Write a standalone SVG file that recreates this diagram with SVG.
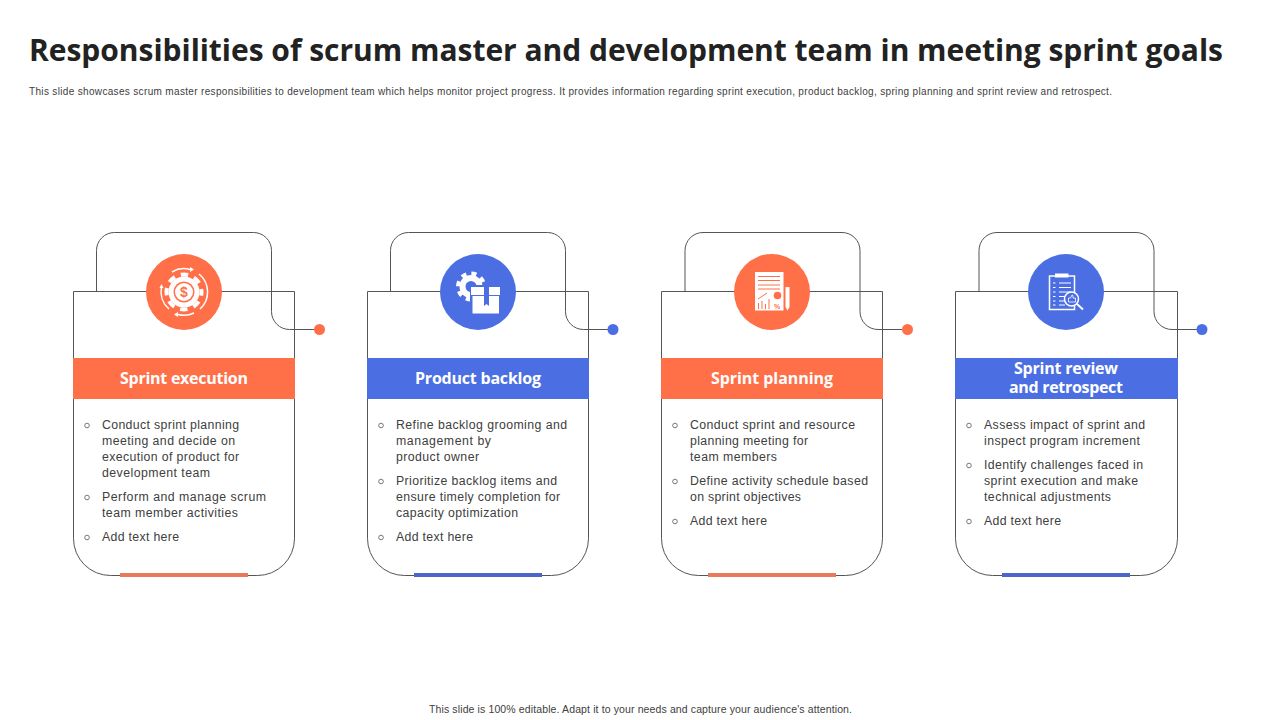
<svg xmlns="http://www.w3.org/2000/svg" width="1280" height="720" viewBox="0 0 1280 720">
<style>
.title{font:700 30px "Open Sans","Noto Sans",sans-serif;fill:#222}
.sub{font:10px "Liberation Sans",Arial,sans-serif;fill:#404040}
.foot{font:10.5px "Liberation Sans",Arial,sans-serif;fill:#404040}
.b{font:12.300px "Liberation Sans",Arial,sans-serif;fill:#404040}
.h{font:700 16px "Open Sans","Noto Sans",sans-serif;fill:#fff;text-anchor:middle}
.frame{fill:none;stroke:#555;stroke-width:1}
.conn{fill:none;stroke:#555;stroke-width:1}
.dot{fill:none;stroke:#555;stroke-width:.8}
.o{fill:#FF7049}.bl{fill:#4B6FE3}
.wl{fill:none;stroke:#fff;stroke-width:1.5}
.wt{fill:#fff}
.icon-t{font:700 8px "Liberation Sans",Arial,sans-serif;text-anchor:middle}
</style>
<defs>
<path id="frame" class="frame" d="M0 0H221V247A37 37 0 0 1 184 284H37A37 37 0 0 1 0 247Z"/>
<path id="frame-wide" class="frame" d="M0 0H222V247A37 37 0 0 1 185 284H37A37 37 0 0 1 0 247Z"/>
<path id="loop" class="conn" d="M0 59V18A18 18 0 0 1 18 0H157A18 18 0 0 1 175 18V79A18 18 0 0 0 193 97H222"/>
</defs>
<text class="title" x="29" y="60.500" textLength="1194">Responsibilities of scrum master and development team in meeting sprint goals</text>
<text class="sub" x="29" y="94.500" textLength="1083">This slide showcases scrum master responsibilities to development team which helps monitor project progress. It provides information regarding sprint execution, product backlog, spring planning and sprint review and retrospect.</text>
<g id="connectors">
<use href="#loop" x="96.500" y="232.500"/><circle class="o" cx="319.500" cy="329.500" r="5.500"/>
<use href="#loop" x="390.500" y="232.500"/><circle class="bl" cx="613" cy="329.500" r="5.500"/>
<use href="#loop" x="685" y="232.500"/><circle class="o" cx="907.500" cy="329.500" r="5.500"/>
<use href="#loop" x="979" y="232.500"/><circle class="bl" cx="1202" cy="329.500" r="5.500"/>
</g>
<g id="node-sprint-execution">
<use href="#frame" x="73.500" y="291.500"/>
<rect class="o" x="73" y="358" width="222" height="41"/>
<rect x="120" y="573" width="128" height="4" fill="#E8795B"/>
<circle class="o" cx="184" cy="292" r="38"/>
<circle cx="184" cy="292" r="15.500" fill="#fff"/>
<circle cx="184" cy="292" r="17.500" fill="none" stroke="#fff" stroke-width="4" stroke-dasharray="7.500 6.240" stroke-dashoffset="3.750"/>
<circle cx="184" cy="292" r="10.500" class="o"/>
<circle cx="184" cy="292" r="9" fill="#fff"/>
<text x="184" y="297" class="icon-t" style="font-size:14px" fill="#FF7049">$</text>
<path class="wl" d="M172 272A23 23 0 0 1 190 269.500M199 274A23 23 0 0 1 200 309M194 313A23 23 0 0 1 178 314.500M169 309A23 23 0 0 1 161.500 287"/>
<path class="wt" d="M190 267l4 2.500-4 2.500zM178 312l-4 2.500 4 2.500zM159.500 288l2-4 2 4z"/>
<text class="h" x="184" y="384" textLength="128">Sprint execution</text>
<circle class="dot" cx="87" cy="425.500" r="2.300"/>
<text class="b" x="102" y="428.500" textLength="137">Conduct sprint planning</text>
<text class="b" x="102" y="444.500" textLength="133">meeting and decide on</text>
<text class="b" x="102" y="460.500" textLength="137">execution of product for</text>
<text class="b" x="102" y="476.500" textLength="108">development  team</text>
<circle class="dot" cx="87" cy="497.500" r="2.300"/>
<text class="b" x="102" y="500.500" textLength="164">Perform and manage scrum</text>
<text class="b" x="102" y="516.500" textLength="136">team member activities</text>
<circle class="dot" cx="87" cy="537.500" r="2.300"/>
<text class="b" x="102" y="540.500" textLength="77">Add text here</text>
</g>
<g id="node-product-backlog">
<use href="#frame" x="367.500" y="291.500"/>
<rect class="bl" x="367" y="358" width="222" height="41"/>
<rect x="414" y="573" width="128" height="4" fill="#4A66C8"/>
<circle class="bl" cx="478" cy="292" r="38"/>
<circle cx="471" cy="286.500" r="8.500" fill="none" stroke="#fff" stroke-width="6"/>
<circle cx="471" cy="286.500" r="13" fill="none" stroke="#fff" stroke-width="4" stroke-dasharray="5.100 5.110"/>
<rect x="470" y="285" width="32" height="30" class="bl"/>
<rect x="471" y="287" width="29" height="8" fill="#fff"/>
<rect x="472.500" y="296" width="26.500" height="17.500" fill="#fff"/>
<path class="bl" d="M484 287h5v19l-2.500-2-2.500 2z"/>
<text class="h" x="478" y="384" textLength="126">Product backlog</text>
<circle class="dot" cx="381" cy="425.500" r="2.300"/>
<text class="b" x="396" y="428.500" textLength="171">Refine backlog grooming and</text>
<text class="b" x="396" y="444.500" textLength="95">management by</text>
<text class="b" x="396" y="460.500" textLength="83">product owner</text>
<circle class="dot" cx="381" cy="481.500" r="2.300"/>
<text class="b" x="396" y="484.500" textLength="161">Prioritize backlog items and</text>
<text class="b" x="396" y="500.500" textLength="164">ensure timely completion for</text>
<text class="b" x="396" y="516.500" textLength="122">capacity optimization</text>
<circle class="dot" cx="381" cy="537.500" r="2.300"/>
<text class="b" x="396" y="540.500" textLength="77">Add text here</text>
</g>
<g id="node-sprint-planning">
<use href="#frame" x="661.500" y="291.500"/>
<rect class="o" x="661" y="358" width="222" height="41"/>
<rect x="708" y="573" width="128" height="4" fill="#E8795B"/>
<circle class="o" cx="772" cy="292" r="38"/>
<rect x="755" y="272" width="28.500" height="38.500" fill="#fff"/>
<path d="M758 276.500h22M758 280.500h22M758 285h22M758 289h22" stroke="#FF7049" stroke-width="1.200" fill="none"/>
<circle cx="777.500" cy="295.500" r="3.800" class="o"/>
<path d="M758.500 309v-6M762 309v-8M765.500 309v-5M769 309v-10M758 299l9-6" stroke="#FF7049" stroke-width="1" fill="none"/>
<text x="777" y="309" class="icon-t" style="font-size:7px" fill="#FF7049">%</text>
<path class="wt" d="M785.500 287h4v20l-2 3.500-2-3.500z"/>
<text class="h" x="772" y="384" textLength="122">Sprint planning</text>
<circle class="dot" cx="675" cy="425.500" r="2.300"/>
<text class="b" x="690" y="428.500" textLength="165">Conduct sprint and resource</text>
<text class="b" x="690" y="444.500" textLength="118">planning meeting for</text>
<text class="b" x="690" y="460.500" textLength="87">team members</text>
<circle class="dot" cx="675" cy="481.500" r="2.300"/>
<text class="b" x="690" y="484.500" textLength="178">Define activity schedule based</text>
<text class="b" x="690" y="500.500" textLength="111">on sprint objectives</text>
<circle class="dot" cx="675" cy="521.500" r="2.300"/>
<text class="b" x="690" y="524.500" textLength="77">Add text here</text>
</g>
<g id="node-sprint-review">
<use href="#frame-wide" x="955.500" y="291.500"/>
<rect class="bl" x="955" y="358" width="223" height="41"/>
<rect x="1002" y="573" width="128" height="4" fill="#4A66C8"/>
<circle class="bl" cx="1066" cy="292" r="38"/>
<rect x="1049.500" y="276" width="25" height="33.500" fill="none" stroke="#fff" stroke-width="1.500"/>
<rect x="1055" y="273.500" width="13.500" height="4" fill="#fff"/>
<path d="M1059 283h12M1059 287.500h12M1059 292h12M1059 296.500h8M1059 301h6M1059 305h6" stroke="#fff" stroke-width="1" fill="none"/>
<path d="M1053 283h2.500M1053 287.500h2.500M1053 292h2.500M1053 296.500h2.500M1053 301h2.500M1053 305h2.500" stroke="#fff" stroke-width="1" fill="none"/>
<circle cx="1071.500" cy="299" r="7" fill="#4B6FE3" stroke="#fff" stroke-width="1.500"/>
<path d="M1068.500 302v-4h2l1.500-3 1 .5v2.500h2.500v4z" fill="none" stroke="#fff" stroke-width=".8"/>
<path d="M1077 304l6 5.500" stroke="#fff" stroke-width="2" fill="none"/>
<text class="h" x="1066" y="374" textLength="104">Sprint review</text>
<text class="h" x="1066" y="393" textLength="114">and retrospect</text>
<circle class="dot" cx="969" cy="425.500" r="2.300"/>
<text class="b" x="984" y="428.500" textLength="161">Assess impact of sprint and</text>
<text class="b" x="984" y="444.500" textLength="156">inspect program increment</text>
<circle class="dot" cx="969" cy="465.500" r="2.300"/>
<text class="b" x="984" y="468.500" textLength="159">Identify challenges faced in</text>
<text class="b" x="984" y="484.500" textLength="154">sprint execution and make</text>
<text class="b" x="984" y="500.500" textLength="127">technical adjustments</text>
<circle class="dot" cx="969" cy="521.500" r="2.300"/>
<text class="b" x="984" y="524.500" textLength="77">Add text here</text>
</g>
<text class="foot" x="429" y="713" textLength="423">This slide is 100% editable.  Adapt it to your needs and capture your audience's attention.</text>
</svg>
